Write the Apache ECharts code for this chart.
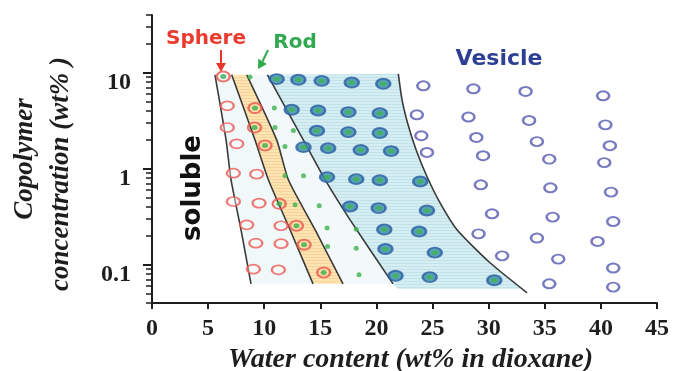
<!DOCTYPE html>
<html><head><meta charset="utf-8">
<script src="https://cdn.jsdelivr.net/npm/echarts@6/dist/echarts.min.js"></script>
<style>html,body{margin:0;padding:0;background:#fff}#c{width:677px;height:371px}</style>
</head><body><div id="c"></div>
<script>
// ---- data ----
const yMajorTicks = [0.1, 1, 10];
const yMinorTicks = [0.04,0.05,0.06,0.07,0.08,0.09,0.2,0.3,0.4,0.5,0.6,0.7,0.8,0.9,2,3,4,5,6,7,8,9,20,30,40];

const sphereOpen = [[6.71,4.53],[6.71,2.69],[7.55,1.82],[7.25,0.90],[9.33,0.88],[7.25,0.456],[9.54,0.439],
  [8.44,0.261],[11.5,0.255],[9.25,0.168],[11.5,0.166],[9.03,0.090],[11.26,0.0887]];
const sphereRod = [[6.35,9.15],[9.18,4.29],[9.14,2.69],[10.07,1.75],[11.34,0.432],[12.87,0.255],[13.55,0.162],[15.3,0.0832]];
const rod = [[8.73,9.02],[10.9,4.29],[10.96,2.69],[12.6,2.51],[11.85,1.71],[11.85,0.846],[13.5,0.846],
  [12.75,0.422],[14.9,0.412],[15.6,0.241],[18.2,0.235],[15.65,0.155],[18.2,0.149],[18.45,0.0787]];
const rodVesicle = [[11.11,8.60],[13.04,8.46],[15.12,8.25],[17.80,7.92],[20.61,7.68],
  [12.45,4.12],[14.8,4.05],[17.5,3.90],[20.3,3.80],
  [14.7,2.49],[17.5,2.41],[20.3,2.36],
  [13.5,1.68],[15.7,1.64],[18.6,1.57],[21.3,1.53],
  [15.6,0.82],[18.2,0.78],[20.3,0.76],[23.9,0.738],
  [17.65,0.405],[20.2,0.390],[24.5,0.368],
  [20.7,0.233],[23.8,0.222],
  [20.8,0.146],[25.2,0.134],
  [21.7,0.0768],[24.75,0.0745],[30.5,0.069]];
const vesicle = [[24.18,7.32],[28.64,6.81],[33.29,6.39],[40.2,5.76],
  [23.6,3.65],[28.2,3.46],[33.6,3.19],[40.4,2.87],
  [24.0,2.21],[28.9,2.12],[34.3,1.92],[40.8,1.74],
  [24.5,1.48],[29.5,1.37],[35.4,1.26],[40.3,1.16],
  [29.3,0.681],[35.5,0.634],[40.9,0.572],
  [30.3,0.340],[35.7,0.314],[41.1,0.282],
  [29.1,0.210],[34.3,0.190],[39.7,0.175],
  [31.2,0.124],[36.2,0.1146],[41.1,0.0925],
  [35.4,0.0634],[41.1,0.0586]];

const line1 = [[5.61,9.53],[6.60,2.00],[7.04,0.77],[7.93,0.232],[8.82,0.0633]];
const line2 = [[7.10,9.53],[9.18,2.00],[10.37,0.77],[12.30,0.232],[14.35,0.0633]];
const line3 = [[8.44,9.53],[11.11,2.00],[12.15,0.77],[14.53,0.232],[17.02,0.0633]];
const line4 = [[10.29,9.53],[13.48,2.00],[15.42,0.77],[17.65,0.294],[21.48,0.0633]];
const line5 = [[21.95,9.76],[22.28,5.23],[22.82,2.87],[23.53,1.58],[24.51,0.826],[25.67,0.442],[27.18,0.232],[30.12,0.105],[33.42,0.0511]];
const blueBottom = [[21.9,0.056],[33.0,0.056]];

// ---- styling helpers ----
function stripes(base, line) {
  const c = document.createElement('canvas'); c.width = 4; c.height = 3;
  const g = c.getContext('2d'); g.fillStyle = base; g.fillRect(0,0,4,3);
  g.fillStyle = line; g.fillRect(0,2,4,1);
  return {image: c, repeat: 'repeat'};
}
function region(pts, fill) {
  return {type:'custom', coordinateSystem:'cartesian2d', data:[0], silent:true, z:1,
    renderItem: (params, api) => ({type:'polygon', shape:{points: pts.map(p => api.coord(p))}, style:{fill: fill}})};
}
function boundary(pts) {
  return {type:'line', data: pts, showSymbol:false, smooth:0.2, silent:true, z:2,
    lineStyle:{color:'#3a3a3a', width:1.6}};
}
function scatter(data, size, style, z) {
  return {type:'scatter', data: data, symbol:'circle', symbolSize: size, itemStyle: style, z: z, silent:true};
}
const log10 = Math.log10;
const yMin = 0.04, yMax = 40;
const serif = 'Liberation Serif';

const chart = echarts.init(document.getElementById('c'), null, {renderer:'canvas'});
chart.setOption({
  animation: false,
  backgroundColor: '#fff',
  grid: {left:152, right:20, top:15, bottom:68, outerBoundsMode:'none'},
  xAxis: {
    type:'value', min:0, max:45, interval:5,
    axisLine:{onZero:false, lineStyle:{color:'#1e1e1e', width:2}},
    axisTick:{length:6, lineStyle:{color:'#1e1e1e', width:2}},
    axisLabel:{fontFamily:serif, fontWeight:'bold', fontSize:24, color:'#1e1e1e', margin:14},
    splitLine:{show:false},
    name:'Water content (wt% in dioxane)', nameLocation:'middle', nameGap:29,
    nameTextStyle:{fontFamily:serif, fontWeight:'bold', fontStyle:'italic', fontSize:28, color:'#1e1e1e', padding:[0,0,0,12]}
  },
  yAxis: [{
    type:'log', logBase:10, min:yMin, max:yMax, position:'left',
    axisLine:{onZero:false, lineStyle:{color:'#1e1e1e', width:2}},
    axisTick:{show:false},
    axisLabel:{fontFamily:serif, fontWeight:'bold', fontSize:24, color:'#1e1e1e', margin:21,
      verticalAlign:'top', lineHeight:20,
      formatter: v => {
        const hit = yMajorTicks.find(t => Math.abs(log10(t) - log10(v)) < 1e-6);
        return hit === undefined ? '' : String(hit);
      }},
    splitLine:{show:false},
    name:'Copolymer', nameLocation:'middle', nameRotate:90, nameGap:113,
    nameTextStyle:{fontFamily:serif, fontWeight:'bold', fontStyle:'italic', fontSize:27, color:'#1e1e1e'}
  }, {
    type:'value', min:log10(yMin), max:log10(yMax), position:'left',
    axisLine:{show:false, onZero:false},
    axisTick:{show:true, length:9, customValues: yMajorTicks.map(log10), lineStyle:{color:'#1e1e1e', width:2}},
    axisLabel:{show:false}, splitLine:{show:false},
    name:'concentration (wt% )', nameLocation:'middle', nameRotate:90, nameGap:77,
    nameTextStyle:{fontFamily:serif, fontWeight:'bold', fontStyle:'italic', fontSize:27, color:'#1e1e1e', padding:[0,30,0,0]}
  }, {
    type:'value', min:log10(yMin), max:log10(yMax), position:'left',
    axisLine:{show:false, onZero:false},
    axisTick:{show:true, length:6, customValues: yMinorTicks.map(log10), lineStyle:{color:'#1e1e1e', width:1.5}},
    axisLabel:{show:false}, splitLine:{show:false}
  }],
  series: [
    region(line1.concat(line2.slice().reverse()), '#f1f8fa'),
    region(line3.concat(line4.slice().reverse()), '#f3f9fa'),
    region(line2.concat(line3.slice().reverse()), stripes('#fde4b2', '#f6d497')),
    region(line4.concat(blueBottom, line5.slice(0, -1).reverse()), stripes('#d6eef2', '#c0e2e9')),
    boundary(line1), boundary(line2), boundary(line3), boundary(line4), boundary(line5),
    scatter(sphereOpen, [13,9], {color:'rgba(255,255,255,0.5)', borderColor:'#ec5a55', borderWidth:2}, 5),
    scatter(sphereRod, [13,10], {color:'rgba(255,255,255,0)', borderColor:'#e8574f', borderWidth:2.2}, 5),
    scatter(sphereRod, [6,5], {color:'#3aae4c'}, 6),
    scatter(rod, 5, {color:'#3fb24f'}, 5),
    scatter(rodVesicle, [14,10], {color:'#3a8fa2', borderColor:'#2c5ea8', borderWidth:2.2}, 5),
    scatter(rodVesicle, [6,4], {color:'#3db54a'}, 6),
    scatter(vesicle, [12,9], {color:'#fff', borderColor:'#5559b0', borderWidth:2.2}, 5)
  ],
  graphic: [
    {type:'text', x:206, y:39, z:10, style:{text:'Sphere', font:'bold 20px "DejaVu Sans"', fill:'#ea3b2f', align:'center', verticalAlign:'middle'}},
    {type:'text', x:295, y:43, z:10, style:{text:'Rod', font:'bold 20px "DejaVu Sans"', fill:'#32a851', align:'center', verticalAlign:'middle'}},
    {type:'text', x:499, y:59, z:10, style:{text:'Vesicle', font:'bold 22px "DejaVu Sans"', fill:'#2c3f94', align:'center', verticalAlign:'middle'}},
    {type:'text', x:193, y:188, rotation:Math.PI/2, z:10, style:{text:'soluble', font:'bold 26px "DejaVu Sans"', fill:'#111', align:'center', verticalAlign:'middle'}},
    {type:'line', z:10, shape:{x1:221, y1:50, x2:221, y2:64}, style:{stroke:'#e8362c', lineWidth:2}},
    {type:'polygon', z:10, shape:{points:[[216,63],[226,63],[221,72]]}, style:{fill:'#e8362c'}},
    {type:'line', z:10, shape:{x1:268, y1:50, x2:262.6, y2:61.3}, style:{stroke:'#2eaa4a', lineWidth:2}},
    {type:'polygon', z:10, shape:{points:[[266.9,63.9],[258.3,58.7],[258,69]]}, style:{fill:'#2eaa4a'}}
  ]
});
</script></body></html>
